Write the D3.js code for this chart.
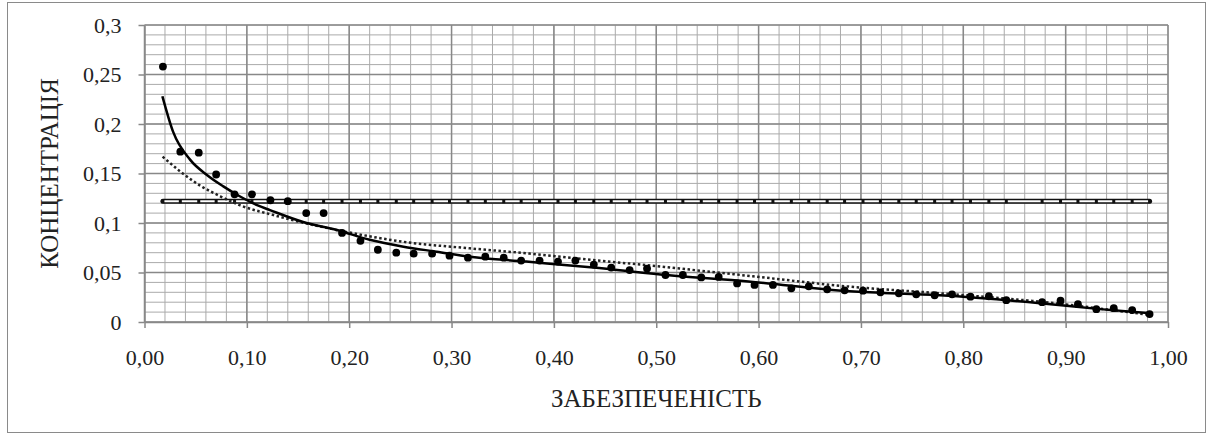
<!DOCTYPE html>
<html>
  <head>
    <meta charset="utf-8">
    <script src="https://d3js.org/d3.v7.min.js"></script>
    <style>
      body { margin: 0; background: #fff; }
      svg text { font-family: "Liberation Serif", "Times New Roman", "DejaVu Serif", serif; fill: #222; }
    </style>
  </head>
  <body>
    <svg width="1212" height="437"></svg>
</body>
</html>
<script>

// forecast probability (x) and observed concentrations
const prob = [0.018, 0.035, 0.053, 0.070, 0.088, 0.105, 0.123, 0.140, 0.158, 0.175,
  0.193, 0.211, 0.228, 0.246, 0.263, 0.281, 0.298, 0.316, 0.333, 0.351,
  0.368, 0.386, 0.404, 0.421, 0.439, 0.456, 0.474, 0.491, 0.509, 0.526,
  0.544, 0.561, 0.579, 0.596, 0.614, 0.632, 0.649, 0.667, 0.684, 0.702,
  0.719, 0.737, 0.754, 0.772, 0.789, 0.807, 0.825, 0.842, 0.877, 0.895,
  0.912, 0.930, 0.947, 0.965, 0.982];
const conc = [0.258, 0.172, 0.171, 0.149, 0.129, 0.129, 0.123, 0.122, 0.110, 0.110,
  0.090, 0.082, 0.073, 0.070, 0.069, 0.069, 0.067, 0.065, 0.066, 0.065,
  0.062, 0.062, 0.061, 0.062, 0.058, 0.055, 0.0525, 0.054, 0.0475, 0.0475,
  0.045, 0.0455, 0.039, 0.0375, 0.0375, 0.034, 0.036, 0.033, 0.032, 0.0316,
  0.030, 0.029, 0.028, 0.027, 0.028, 0.0256, 0.026, 0.022, 0.020, 0.0215,
  0.018, 0.013, 0.014, 0.012, 0.008];

// solid curve
const fitX = [0.0175, 0.028, 0.0445, 0.061, 0.077, 0.093, 0.11, 0.1226, 0.155, 0.188,
  0.22, 0.253, 0.2855, 0.318, 0.373, 0.4385, 0.504, 0.59, 0.689, 0.777, 0.875, 0.9335, 0.983];
const fitY = [0.228, 0.192, 0.164, 0.1485, 0.137, 0.127, 0.118, 0.113, 0.101, 0.093,
  0.083, 0.076, 0.071, 0.066, 0.061, 0.055, 0.048, 0.041, 0.031, 0.027, 0.019, 0.013, 0.0088];

// dotted curve
const dotX = [0.0177, 0.035, 0.054, 0.074, 0.093, 0.126, 0.204, 0.253, 0.318, 0.373,
  0.4385, 0.504, 0.5916, 0.689, 0.777, 0.875, 0.983];
const dotY = [0.167, 0.152, 0.138, 0.127, 0.118, 0.108, 0.0896, 0.081, 0.0744, 0.0694,
  0.0626, 0.056, 0.0465, 0.0357, 0.029, 0.0205, 0.007];

const level = 0.122;

const xTicks = [0, 0.1, 0.2, 0.3, 0.4, 0.5, 0.6, 0.7, 0.8, 0.9, 1.0];
const yTicks = [0, 0.05, 0.1, 0.15, 0.2, 0.25, 0.3];

const svg = d3.select('svg');
const pLeft = 144.5, pRight = 1168, pTop = 25, pBottom = 322;
const serif = '"Liberation Serif", "Times New Roman", serif';

const x = d3.scaleLinear().domain([0, 1]).range([pLeft, pRight]);
const y = d3.scaleLinear().domain([0, 0.3]).range([pBottom, pTop]);

// outer frame
svg.append('rect')
  .attr('x', 7.5).attr('y', 2.5).attr('width', 1198).attr('height', 430)
  .attr('fill', 'none').attr('stroke', '#8a8a8a').attr('stroke-width', 1);

const grid = svg.append('g');
grid.selectAll('line.vmin')
  .data(d3.range(0, 1.0001, 0.02))
  .join('line')
  .attr('x1', d => x(d)).attr('x2', d => x(d))
  .attr('y1', pTop).attr('y2', pBottom)
  .attr('stroke', '#aaa').attr('stroke-width', 1);
grid.selectAll('line.hmin')
  .data(d3.range(0, 0.3001, 0.01))
  .join('line')
  .attr('x1', pLeft).attr('x2', pRight)
  .attr('y1', d => y(d)).attr('y2', d => y(d))
  .attr('stroke', '#aaa').attr('stroke-width', 1);
grid.selectAll('line.vmaj')
  .data(xTicks)
  .join('line')
  .attr('x1', d => x(d)).attr('x2', d => x(d))
  .attr('y1', pTop).attr('y2', pBottom)
  .attr('stroke', '#888').attr('stroke-width', 1.5);
grid.selectAll('line.hmaj')
  .data(yTicks)
  .join('line')
  .attr('x1', pLeft).attr('x2', pRight)
  .attr('y1', d => y(d)).attr('y2', d => y(d))
  .attr('stroke', '#888').attr('stroke-width', 1.5);

const fmt = d => d.toString().replace('.', ',');

const xAxis = svg.append('g')
  .attr('transform', `translate(0,${pBottom})`)
  .call(d3.axisBottom(x).tickValues(xTicks).tickSize(6).tickSizeOuter(0)
    .tickFormat(d => d3.format('.2f')(d).replace('.', ',')));
const yAxis = svg.append('g')
  .attr('transform', `translate(${pLeft},0)`)
  .call(d3.axisLeft(y).tickValues(yTicks).tickSize(6).tickSizeOuter(0).tickFormat(fmt));

[xAxis, yAxis].forEach(a => {
  a.attr('font-family', serif);
  a.select('.domain').attr('stroke', '#888').attr('stroke-width', 1.5);
  a.selectAll('.tick line').attr('stroke', '#888').attr('stroke-width', 1.5);
  a.selectAll('.tick text').attr('font-size', 22).attr('fill', '#222');
});
xAxis.selectAll('.tick text').attr('y', 43).attr('dy', 0);
yAxis.selectAll('.tick text').attr('x', -23);

// level line: black edge, white core, dash markers
const lvl = svg.append('g');
lvl.append('line')
  .attr('x1', x(prob[0])).attr('x2', x(prob[prob.length - 1]))
  .attr('y1', y(level)).attr('y2', y(level))
  .attr('stroke', '#111').attr('stroke-width', 5).attr('stroke-linecap', 'round');
lvl.append('line')
  .attr('x1', x(prob[0])).attr('x2', x(prob[prob.length - 1]))
  .attr('y1', y(level)).attr('y2', y(level))
  .attr('stroke', '#fff').attr('stroke-width', 2);
lvl.selectAll('rect')
  .data(prob)
  .join('rect')
  .attr('x', d => x(d) - 1.5).attr('y', y(level) - 2)
  .attr('width', 3).attr('height', 4)
  .attr('fill', '#111');

// dotted curve
svg.append('path')
  .datum(d3.zip(dotX, dotY))
  .attr('fill', 'none')
  .attr('stroke', '#222').attr('stroke-width', 2.5)
  .attr('stroke-dasharray', '2.5,2.5')
  .attr('d', d3.line().x(d => x(d[0])).y(d => y(d[1])).curve(d3.curveMonotoneX));

// solid curve
svg.append('path')
  .datum(d3.zip(fitX, fitY))
  .attr('fill', 'none')
  .attr('stroke', '#000').attr('stroke-width', 2.5)
  .attr('d', d3.line().x(d => x(d[0])).y(d => y(d[1])).curve(d3.curveMonotoneX));

// observed points
svg.append('g').selectAll('circle')
  .data(d3.zip(prob, conc))
  .join('circle')
  .attr('cx', d => x(d[0])).attr('cy', d => y(d[1]))
  .attr('r', 3.9)
  .attr('fill', '#000');

// axis titles
svg.append('text')
  .attr('x', (pLeft + pRight) / 2).attr('y', 407)
  .attr('text-anchor', 'middle').attr('font-size', 25)
  .text('ЗАБЕЗПЕЧЕНІСТЬ');
svg.append('text')
  .attr('transform', `translate(58,${(pTop + pBottom) / 2}) rotate(-90)`)
  .attr('text-anchor', 'middle').attr('font-size', 25)
  .text('КОНЦЕНТРАЦІЯ');

</script>
